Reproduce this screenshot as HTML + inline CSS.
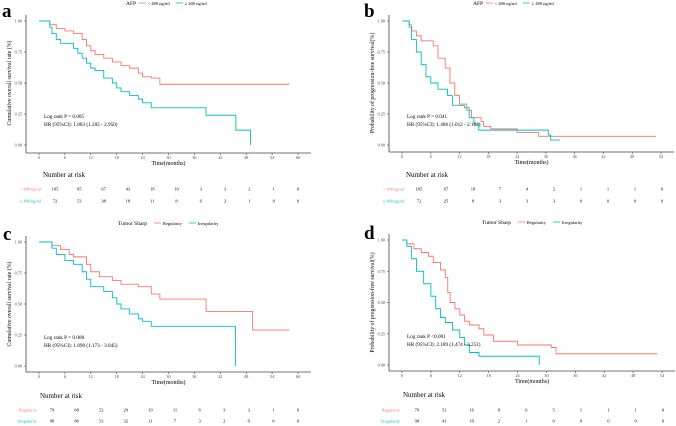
<!DOCTYPE html>
<html><head><meta charset="utf-8"><style>
html,body{margin:0;padding:0;background:#fff;width:676px;height:426px;overflow:hidden}
svg{display:block;font-family:"Liberation Serif",serif}
</style></head><body>
<svg id="fig" width="676" height="426" viewBox="0 0 676 426" xmlns="http://www.w3.org/2000/svg"></svg>
<script>
// Panel a: AFP overall survival
const aRedT=[0,2.5,4,6,8,10,11,12,13,15,17,19,21,23,24,26,28,28.5,58];
const aRedS=[1,0.97,0.94,0.92,0.90,0.85,0.80,0.76,0.73,0.70,0.67,0.64,0.62,0.58,0.55,0.54,0.49,0.49,0.49];
const aTealT=[0,2.5,3,4,5,6,8,9,10,11,12,13,15,17,18,19,21,23,24,26,38.7,45.6,49,49];
const aTealS=[1,0.95,0.90,0.85,0.82,0.82,0.78,0.74,0.70,0.66,0.62,0.60,0.54,0.50,0.46,0.43,0.40,0.37,0.34,0.30,0.24,0.12,0.0,0.0];
const aRisk1=[105,95,67,43,19,10,3,3,2,1,0];
const aRisk2=[72,53,38,18,11,8,6,2,1,0,0];
// Panel b: AFP PFS
const bRedT=[0,1.5,2,3,4,5,6.5,7.5,9,10,11,12,13.5,14.5,16.5,17,18.5,24,28.5,53];
const bRedS=[1,0.97,0.92,0.88,0.84,0.84,0.80,0.70,0.62,0.50,0.40,0.33,0.28,0.22,0.19,0.15,0.13,0.10,0.07,0.07];
const bTealT=[0,1.5,2,3,4,5,6,7.5,9.5,10.5,13,14,15,16,30.5,31,32,33];
const bTealS=[1,0.95,0.85,0.75,0.65,0.55,0.50,0.45,0.40,0.32,0.30,0.22,0.17,0.12,0.08,0.04,0.04,0.04];
const bRisk1=[105,67,18,7,4,2,1,1,1,0];
const bRisk2=[72,25,8,3,3,3,0,0,0,0];
// Panel c: Tumor shape OS
const cRedT=[0,3,5,7,8,11,12,14,17,19,23,26,28,38.7,49.5,58];
const cRedS=[1,0.97,0.94,0.90,0.88,0.82,0.76,0.72,0.69,0.66,0.64,0.58,0.54,0.44,0.29,0.29];
const cTealT=[0,3,4,6,8,10,11,12,15,17,18,19,21,23,24,26,45.5,45.5];
const cTealS=[1,0.95,0.90,0.85,0.82,0.76,0.70,0.64,0.60,0.55,0.50,0.46,0.42,0.38,0.36,0.32,0.0,0.0];
const cRisk1=[79,68,52,29,19,11,6,3,3,1,0];
const cRisk2=[98,80,53,32,11,7,3,2,0,0,0];
// Panel d: Tumor shape PFS
const dRedT=[0,1,2.5,4,5.5,6.5,8,9,9.5,10,11,12,13,14,16,17,19,24,31,32,53];
const dRedS=[1,0.97,0.93,0.90,0.87,0.82,0.76,0.70,0.58,0.50,0.45,0.40,0.35,0.32,0.29,0.24,0.19,0.16,0.14,0.09,0.09];
const dTealT=[0,1,2,3,4.5,6,7,8,9,10.5,12,13,14,16,28.5,28.5];
const dTealS=[1,0.95,0.85,0.75,0.65,0.55,0.45,0.38,0.34,0.28,0.22,0.16,0.10,0.07,0.0,0.0];
const dRisk1=[79,51,16,8,6,5,1,1,1,0];
const dRisk2=[98,41,10,2,1,0,0,0,0,0];

const RED="#F8766D",TEAL="#00BFC4";
const svg=document.getElementById('fig');
const NS="http://www.w3.org/2000/svg";
function mk(tag,attrs,parent,text){const e=document.createElementNS(NS,tag);for(const k in attrs)e.setAttribute(k,attrs[k]);if(text!==undefined)e.textContent=text;(parent||svg).appendChild(e);return e;}

function panel(p){
  const g=mk('g',{});
  
  
  const xs=t=>p.x0+(t/p.tmax)*(p.x1-p.x0);
  const ys=s=>p.y0+(1-s)*(p.yb-p.y0);
  // panel label
  const lab=mk('text',{x:p.lx,y:p.ly,'font-size':19,'font-weight':'bold',fill:'#000'},g,p.id);
  
  
  // legend
  const lg=mk('g',{},g);
  
  
  let lx=p.legX;
  mk('text',{x:lx,y:p.legY+2,'font-size':5.5,fill:'#000'},lg,p.legTitle);
  lx+=p.legTitle.length*2.9+4;
  [[RED,p.names[0]],[TEAL,p.names[1]]].forEach(([c,n],i)=>{
    const ln=mk('line',{x1:lx,x2:lx+7,y1:p.legY,y2:p.legY,stroke:c,'stroke-width':0.8},lg);
    
    
    mk('text',{x:lx+9,y:p.legY+1.8,'font-size':4.5,fill:'#000'},lg,n);
    lx+=9+n.length*2.1+5;
  });
  // axes
  const ax=mk('g',{},g);
  
  
  mk('line',{x1:p.ax,x2:p.ax,y1:p.y0-6,y2:p.axY,stroke:'#444','stroke-width':0.8},ax);
  mk('line',{x1:p.ax,x2:p.x1+13,y1:p.axY,y2:p.axY,stroke:'#444','stroke-width':0.8},ax);
  [0,0.25,0.5,0.75,1].forEach(v=>{
    const y=ys(v);
    mk('line',{x1:p.ax-2,x2:p.ax,y1:y,y2:y,stroke:'#444','stroke-width':0.6},ax);
    mk('text',{x:p.ax-4,y:y+1.5,'font-size':4.2,'text-anchor':'end',fill:'#444'},ax,v.toFixed(2));
  });
  for(let t=0;t<=p.tmax;t+=6){
    const x=xs(t);
    mk('line',{x1:x,x2:x,y1:p.axY,y2:p.axY+2,stroke:'#444','stroke-width':0.6},ax);
    mk('text',{x:x,y:p.axY+6,'font-size':4.2,'text-anchor':'middle',fill:'#444'},ax,String(t));
  }
  const xt=mk('text',{x:(p.x0+p.x1)/2,y:p.axY+12,'font-size':6,'text-anchor':'middle',fill:'#000'},ax,'Time(months)');
  
  
  const cy=(p.y0+p.yb)/2;
  const yt=mk('text',{x:p.ax-15,y:cy,'font-size':5.8,'text-anchor':'middle',fill:'#000',transform:`rotate(-90 ${p.ax-15} ${cy})`},ax,p.ytitle);
  
  
  // curves
  [[p.r,RED,'regular'],[p.t,TEAL,'other']].forEach(([d,c,nm],i)=>{
    const [T,S]=d;
    let path=`M${xs(T[0])},${ys(S[0])}`;
    for(let k=1;k<T.length;k++){path+=`H${xs(T[k])}V${ys(S[k])}`;}
    const pe=mk('path',{d:path,fill:'none',stroke:c,'stroke-width':0.9},g);
    
    
  });
  // stats
  const st=mk('g',{},g);
  
  
  mk('text',{x:p.sx,y:p.sy,'font-size':5.2,fill:'#000'},st,p.s1);
  mk('text',{x:p.sx,y:p.sy+8,'font-size':5.2,fill:'#000'},st,p.s2);
  // risk table
  const rt=mk('g',{},g);
  
  
  mk('text',{x:p.nrx,y:p.nry,'font-size':7,fill:'#000'},rt,'Number at risk');
  [[p.risk1,RED,p.names[0],p.ry1],[p.risk2,TEAL,p.names[1],p.ry2]].forEach(([arr,c,n,y])=>{
    mk('text',{x:p.rlab,y:y+1.5,'font-size':4.3,'text-anchor':'end',fill:c},rt,n);
    arr.forEach((v,k)=>{
      const x=p.rx0+k*(p.rx1-p.rx0)/(arr.length-1);
      mk('text',{x:x,y:y+1.5,'font-size':4.5,'text-anchor':'middle',fill:'#000'},rt,String(v));
    });
  });
}
const afp=['< 400 ng/ml','\u2265 400 ng/ml'];
const ts=['Regularity','Irregularity'];
panel({id:'a',lx:2,ly:17,legX:126,legY:3,legTitle:'AFP',names:afp,ax:26,axY:153,x0:39,x1:298,tmax:60,y0:21,yb:145,
  ytitle:'Cumulative overall survival rate (%)',r:[aRedT,aRedS],t:[aTealT,aTealS],sx:44,sy:118,
  s1:'Log rank P = 0.005',s2:'HR (95%CI): 1.883 (1.202 - 2.950)',nrx:43,nry:177,ry1:189,ry2:201,rlab:41,rx0:55,rx1:298,risk1:aRisk1,risk2:aRisk2});
panel({id:'b',lx:364,ly:17,legX:473,legY:3,legTitle:'AFP',names:afp,ax:389,axY:152,x0:402,x1:661,tmax:54,y0:21,yb:145,
  ytitle:'Probability of progression-free survival(%)',r:[bRedT,bRedS],t:[bTealT,bTealS],sx:407,sy:118,
  s1:'Log rank P = 0.041',s2:'HR (95%CI): 1.486 (1.012 - 2.182)',nrx:406,nry:177,ry1:189,ry2:201,rlab:404,rx0:419,rx1:662,risk1:bRisk1,risk2:bRisk2});
panel({id:'c',lx:3,ly:240,legX:118,legY:223,legTitle:'Tumor Sharp',names:ts,ax:26,axY:372,x0:39,x1:298,tmax:60,y0:242,yb:366,
  ytitle:'Cumulative overall survival rate (%)',r:[cRedT,cRedS],t:[cTealT,cTealS],sx:44,sy:339,
  s1:'Log rank P = 0.008',s2:'HR (95%CI): 1.890 (1.173 - 3.045)',nrx:40,nry:398,ry1:410,ry2:421,rlab:37,rx0:52,rx1:298,risk1:cRisk1,risk2:cRisk2});
panel({id:'d',lx:364,ly:239,legX:482,legY:222,legTitle:'Tumor Sharp',names:ts,ax:389,axY:371,x0:402,x1:662,tmax:54,y0:240,yb:365,
  ytitle:'Probability of progression-free survival(%)',r:[dRedT,dRedS],t:[dTealT,dTealS],sx:407,sy:338,
  s1:'Log rank P <0.001',s2:'HR (95%CI): 2.189 (1.474 - 3.251)',nrx:403,nry:397,ry1:410,ry2:421,rlab:400,rx0:417,rx1:663,risk1:dRisk1,risk2:dRisk2});
</script>
</body></html>
